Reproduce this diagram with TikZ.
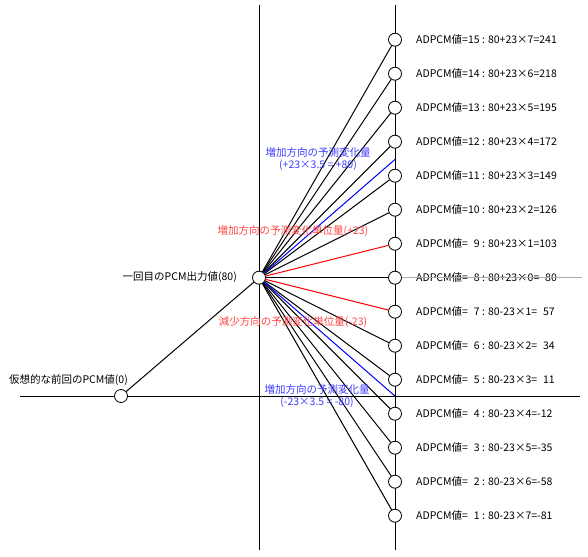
\documentclass[tikz,border=0pt]{standalone}
\usepackage{fontspec}
\newfontfamily\jpfont{Noto Sans CJK JP}
\usetikzlibrary{positioning}
\definecolor{gridgray}{RGB}{170,170,170}
\definecolor{lblred}{RGB}{255,70,70}
\definecolor{lblblue}{RGB}{60,60,255}

\tikzset{
  lvl/.style={circle, draw, fill=white, minimum size=13pt, inner sep=0pt, line width=0.8pt},
  axis/.style={line width=0.8pt},
  link/.style={line width=1pt},
  note/.style={font=\jpfont\fontsize{10.5}{12}\selectfont, align=center, inner sep=0pt}
}
\newcommand{\pd}{\phantom{0}}

\begin{document}
\begin{tikzpicture}[x=1pt, y=-1pt]
\useasboundingbox (0,0) rectangle (588,556);
% axes
\coordinate (tl) at (259,5);   \coordinate (bl) at (259,550);
\coordinate (tr) at (395,5);   \coordinate (br) at (395,550);
\coordinate (hl) at (20,396);  \coordinate (hr) at (580,396);
\draw[axis] (tl) -- (bl);
\draw[axis] (tr) -- (br);
\draw[axis] (hl) -- (hr);

% start and first output
\node[lvl] (s) at (121,396) {};
\node[lvl] (c) at (259,277.7) {};
\node[note, anchor=east] (ls) at (128,380) {仮想的な前回のPCM値(0)};
\node[note, anchor=east] (lc) at (237,277) {一回目のPCM出力値(80)};

% ADPCM levels
\foreach \k/\t in {15/{ADPCM値=15 : 80+23×7=241}, 14/{ADPCM値=14 : 80+23×6=218},
    13/{ADPCM値=13 : 80+23×5=195}, 12/{ADPCM値=12 : 80+23×4=172},
    11/{ADPCM値=11 : 80+23×3=149}, 10/{ADPCM値=10 : 80+23×2=126},
    9/{ADPCM値=\pd9 : 80+23×1=103}, 8/{ADPCM値=\pd8 : 80+23×0=\pd80},
    7/{ADPCM値=\pd7 : 80-23×1=\pd57}, 6/{ADPCM値=\pd6 : 80-23×2=\pd34},
    5/{ADPCM値=\pd5 : 80-23×3=\pd11}, 4/{ADPCM値=\pd4 : 80-23×4=-12},
    3/{ADPCM値=\pd3 : 80-23×5=-35}, 2/{ADPCM値=\pd2 : 80-23×6=-58},
    1/{ADPCM値=\pd1 : 80-23×7=-81}} {
  \node[lvl] (a\k) at (395,{277.7-34*(\k-8)}) {};
  \node[note, anchor=west] (t\k) at (416,{277.7-34*(\k-8)}) {\t};
}

\draw[link] (s) -- (c);
\foreach \k in {1,...,6,8,10,11,...,15}
  \draw[link] (c) -- (a\k);
\draw[link, red] (c) -- (a9);
\draw[link, red] (c) -- (a7);

% +-80 predicted change
\coordinate (pu) at (395,159.4);
\coordinate (pd) at (395,396);
\draw[link, blue] (c) -- (pu);
\draw[link, blue] (c) -- (pd);

\coordinate (ge) at (582,277.7);
\draw[gridgray, line width=0.7pt] (a8.east) -- (ge);

% labels
\node[note, text=lblblue] (bu) at (318,159) {増加方向の予測変化量\\(+23×3.5 = +80)};
\node[note, text=lblred] (ru) at (293,231) {増加方向の予測変化単位量(+23)};
\node[note, text=lblred] (rd) at (293,322) {減少方向の予測変化単位量(-23)};
\node[note, text=lblblue] (bd) at (317,396) {増加方向の予測変化量\\(-23×3.5 = -80)};
\end{tikzpicture}
\end{document}
